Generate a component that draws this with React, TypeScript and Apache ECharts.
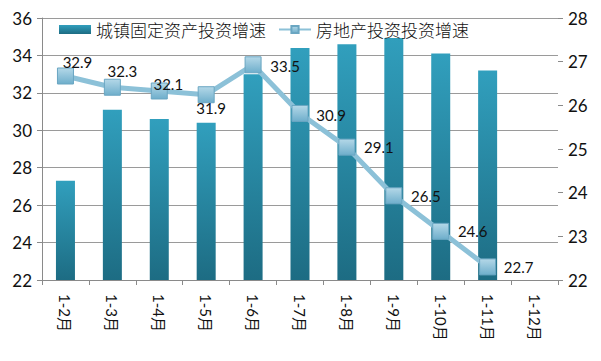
import React, { useEffect, useRef } from "react";
import * as echarts from "echarts";

const categories = ["1-2月", "1-3月", "1-4月", "1-5月", "1-6月", "1-7月", "1-8月", "1-9月", "1-10月", "1-11月", "1-12月"];
const fixedInvest = [27.3, 31.1, 30.6, 30.4, 33.0, 34.4, 34.6, 35.1, 34.1, 33.2, null];
const realEstate = [32.9, 32.3, 32.1, 31.9, 33.5, 30.9, 29.1, 26.5, 24.6, 22.7, null];
const labelOffsets: number[][] = [[12, -14], [10, -16], [9, -7], [5, 13], [32, 1], [31, 2], [32, 0], [32, 0], [32, 0], [31, 0]];
const seriesNames = ["城镇固定资产投资增速", "房地产投资投资增速"];

const FONT = "Lato, 'Noto Sans CJK SC', sans-serif";

export default function App() {
  const ref = useRef<HTMLDivElement>(null);
  useEffect(() => {
    document.body.style.margin = "0";
    const chart = echarts.init(ref.current!, null, { renderer: "svg" });
    chart.setOption({
      animation: false,
      backgroundColor: "#ffffff",
      textStyle: { fontFamily: FONT },
      grid: { left: 42, right: 43, top: 18, bottom: 81 },
      legend: {
        left: 56,
        top: 21,
        itemWidth: 32,
        itemHeight: 9,
        itemGap: 12,
        backgroundColor: "#ffffff",
        padding: [0, 3],
        textStyle: { fontSize: 17, color: "#111", fontFamily: "'Noto Sans CJK SC', sans-serif", fontWeight: 300 },
        data: [
          { name: seriesNames[0], icon: "rect" },
          { name: seriesNames[1] },
        ],
      },
      xAxis: {
        type: "category",
        data: categories,
        boundaryGap: true,
        axisLine: { show: true, lineStyle: { color: "#8a8a8a" } },
        axisTick: { show: true, alignWithLabel: false, length: 5, lineStyle: { color: "#8a8a8a" } },
        axisLabel: { rotate: -90, fontSize: 15, color: "#111", margin: 14, fontFamily: FONT },
      },
      yAxis: [
        {
          type: "value",
          min: 22,
          max: 36,
          interval: 2,
          axisLine: { show: true, lineStyle: { color: "#8a8a8a" } },
          axisTick: { show: true, length: 5, lineStyle: { color: "#8a8a8a" } },
          axisLabel: { fontSize: 17, color: "#111", margin: 10, fontFamily: FONT },
          splitLine: { show: true, lineStyle: { color: "#9a9a9a", width: 1 } },
        },
        {
          type: "value",
          min: 22,
          max: 28,
          interval: 1,
          position: "right",
          axisLine: { show: false },
          axisTick: { show: true, length: 5, lineStyle: { color: "#8a8a8a" } },
          axisLabel: { fontSize: 17, color: "#111", margin: 10, fontFamily: FONT },
          splitLine: { show: false },
        },
      ],
      series: [
        {
          name: seriesNames[0],
          type: "bar",
          data: fixedInvest,
          barWidth: 19,
          z: 1,
          itemStyle: {
            color: new echarts.graphic.LinearGradient(0, 0, 0, 1, [
              { offset: 0, color: "#319fbd" },
              { offset: 1, color: "#1d6c83" },
            ]),
          },
        },
        {
          name: seriesNames[1],
          type: "line",
          data: realEstate.map((v, i) => ({
            value: v,
            label: labelOffsets[i] ? { offset: labelOffsets[i] } : undefined,
          })),
          z: 5,
          symbol: "rect",
          symbolSize: 16,
          lineStyle: { color: "#8cc1d8", width: 5 },
          itemStyle: {
            color: new echarts.graphic.LinearGradient(0, 0, 0, 1, [
              { offset: 0, color: "#b4d8e8" },
              { offset: 1, color: "#6eaecb" },
            ]),
            borderColor: "#6aa6c2",
            borderWidth: 1,
          },
          label: {
            show: true,
            position: "inside",
            fontSize: 15,
            color: "#111",
            fontFamily: FONT,
            formatter: (p: any) => (p.value == null ? "" : Number(p.value).toFixed(1)),
          },
        },
      ],
    });
    return () => chart.dispose();
  }, []);
  return <div ref={ref} style={{ width: 601, height: 361 }} />;
}
